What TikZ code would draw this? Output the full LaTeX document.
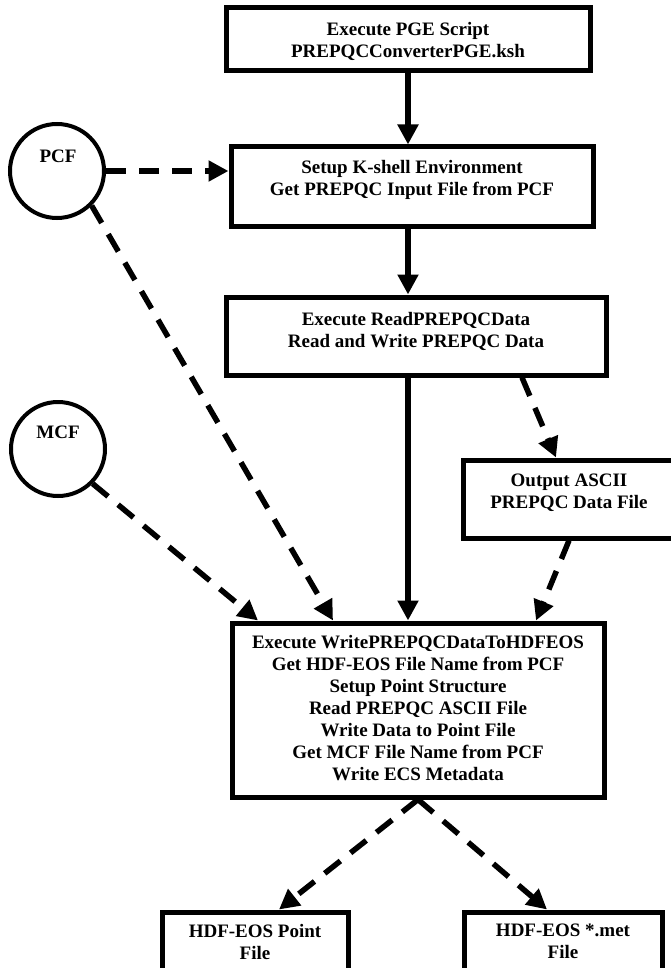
\documentclass[tikz,border=0pt]{standalone}
\usepackage{fontspec}
\setmainfont{Liberation Serif}
\usetikzlibrary{arrows.meta}
\usetikzlibrary{positioning,calc}

\begin{document}
\begin{tikzpicture}[x=1pt,y=-1pt]
	\useasboundingbox (0,0) rectangle (670,968);

	\begin{scope}[every node/.style={rectangle,draw,line width=5pt}]
		\node[minimum width=364pt,minimum height=63pt] (pge) at (408,39.5) {};
		\node[minimum width=362pt,minimum height=80pt] (kshell) at (412,187) {};
		\node[minimum width=380pt,minimum height=78pt] (readdata) at (416,336) {};
		\node[minimum width=212pt,minimum height=78pt] (ascii) at (569,499) {};
		\node[minimum width=372pt,minimum height=174pt] (writehdf) at (418,710) {};
		\node[minimum width=186pt,minimum height=78pt] (point) at (255,951) {};
		\node[minimum width=198pt,minimum height=78pt] (met) at (563,951) {};
	\end{scope}

	\begin{scope}[every node/.style={circle,draw,line width=4pt,minimum size=94pt}]
		\node (pcf) at (57,171) {};
		\node (mcf) at (58,449) {};
	\end{scope}

	\begin{scope}[every node/.style={anchor=north,inner sep=0pt,align=center,font=\fontsize{19}{22}\selectfont\bfseries}]
		\node (pge-t) at (408,22) {Execute PGE Script\\PREPQCConverterPGE.ksh};
		\node (kshell-t) at (412,160) {Setup K-shell Environment\\Get PREPQC Input File from PCF};
		\node (readdata-t) at (416,312) {Execute ReadPREPQCData\\Read and Write PREPQC Data};
		\node (ascii-t) at (569,474) {Output ASCII\\PREPQC Data File};
		\node (writehdf-t) at (418,635) {Execute WritePREPQCDataToHDFEOS\\Get HDF-EOS File Name from PCF\\Setup Point Structure\\Read PREPQC ASCII File\\Write Data to Point File\\Get MCF File Name from PCF\\Write ECS Metadata};
		\node (point-t) at (255,924) {HDF-EOS Point\\File};
		\node (met-t) at (563,924) {HDF-EOS *.met\\File};
		\node (pcf-t) at (58,150) {PCF};
		\node (mcf-t) at (58,426) {MCF};
	\end{scope}

	\begin{scope}[->,>={Triangle[length=20pt,width=20pt]},line width=5.5pt,
		dashline/.style={dash pattern=on 20pt off 13pt}]
		\path (pge.south) edge (pge.south |- kshell.north);
		\path (pge.south |- kshell.south) edge (pge.south |- readdata.north);
		\path (pge.south |- readdata.south) edge (pge.south |- writehdf.north);
		\path (pcf.east) edge[dashline] (pcf.east -| kshell.west);
		\path (pcf.-45) edge[dashline] ([xshift=-85pt]writehdf.north);
		\path (mcf.-45) edge[dashline] ([xshift=-160pt]writehdf.north);
		\path ([xshift=106pt]readdata.south) edge[dashline] ([xshift=-13pt]ascii.north);
		\path (ascii.south) edge[dashline] ([xshift=118pt]writehdf.north);
		\path (writehdf.south) edge[dashline] ([xshift=24pt]point.north);
		\path (writehdf.south) edge[dashline] ([xshift=-16pt]met.north);
	\end{scope}
\end{tikzpicture}
\end{document}
